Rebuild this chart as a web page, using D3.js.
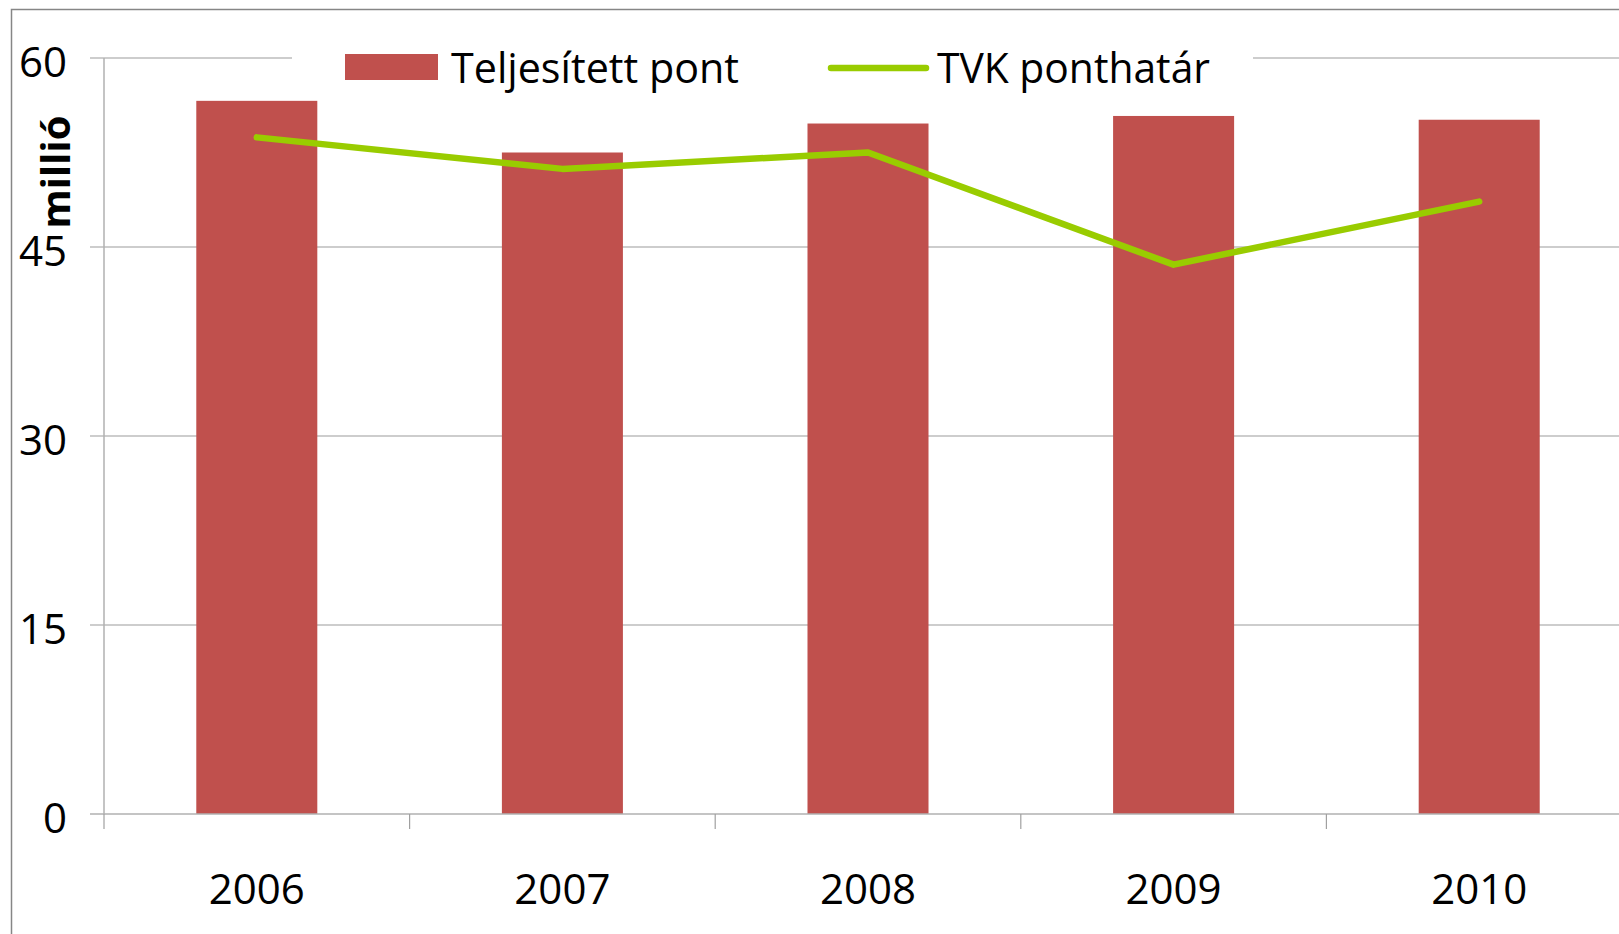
<!DOCTYPE html>
<html>
<head>
<meta charset="utf-8">
<script src="https://cdn.jsdelivr.net/npm/d3@7"></script>
<style>
  body { margin: 0; background: #fff; }
  svg { display: block; font-family: "Open Sans", "Noto Sans", sans-serif; }
</style>
</head>
<body>
<svg id="chart"></svg>
<script>
// chart values
const years = ['2006', '2007', '2008', '2009', '2010'];
const teljesitett = [56.6, 52.5, 54.8, 55.4, 55.1];
const tvkHatar = [53.7, 51.2, 52.5, 43.6, 48.6];
const yTicks = [0, 15, 30, 45, 60];
const seriesNames = ['Teljesített pont', 'TVK ponthatár'];

class ComboChart {

    constructor(_config) {
        this.config = {
            parentElement: _config.parentElement,
            containerWidth: _config.containerWidth || 1619,
            containerHeight: _config.containerHeight || 934,
            margin: {top: 58, right: -13, bottom: 120, left: 104}
        }
        this.initVis();
    }

    initVis() {
        let vis = this;

        vis.width = vis.config.containerWidth - vis.config.margin.left - vis.config.margin.right;
        vis.height = vis.config.containerHeight - vis.config.margin.top - vis.config.margin.bottom;

        vis.svg = d3.select(vis.config.parentElement)
            .attr('width', vis.config.containerWidth)
            .attr('height', vis.config.containerHeight);

        // outer chart frame (runs off to the right/bottom)
        vis.svg.append('rect')
            .attr('x', 11.5)
            .attr('y', 9.5)
            .attr('width', 1700)
            .attr('height', 1000)
            .attr('fill', '#fff')
            .attr('stroke', '#868686')
            .attr('stroke-width', 1.5);

        vis.chart = vis.svg.append('g')
            .attr('transform', `translate(${vis.config.margin.left},${vis.config.margin.top})`);

        vis.xScale = d3.scaleBand()
            .domain(years)
            .range([0, vis.width])
            .padding(0);

        vis.yScale = d3.scaleLinear()
            .domain([0, 60])
            .range([vis.height, 0]);

        vis.updateVis();
    }

    updateVis() {
        let vis = this;
        vis.barData = years.map((y, i) => ({year: y, value: teljesitett[i]}));
        vis.lineData = years.map((y, i) => ({year: y, value: tvkHatar[i]}));
        vis.renderVis();
    }

    renderVis() {
        let vis = this;
        const bw = vis.xScale.bandwidth() * 0.396;

        // gridlines with small tick stubs left of the axis
        vis.chart.selectAll('.grid')
            .data(yTicks.filter(d => d > 0))
            .join('line')
            .attr('class', 'grid')
            .attr('x1', -14)
            .attr('x2', vis.width)
            .attr('y1', d => vis.yScale(d))
            .attr('y2', d => vis.yScale(d))
            .attr('stroke', '#bcbcbc')
            .attr('stroke-width', 1.5);

        // y tick labels
        vis.chart.selectAll('.ylab')
            .data(yTicks)
            .join('text')
            .attr('class', 'ylab')
            .attr('x', -37)
            .attr('y', d => vis.yScale(d) + 19)
            .attr('text-anchor', 'end')
            .attr('font-size', 42)
            .attr('fill', '#000')
            .text(d => d);

        // bars
        vis.chart.selectAll('.bar')
            .data(vis.barData)
            .join('rect')
            .attr('class', 'bar')
            .attr('x', d => vis.xScale(d.year) + (vis.xScale.bandwidth() - bw) / 2)
            .attr('width', bw)
            .attr('y', d => vis.yScale(d.value))
            .attr('height', d => vis.height - vis.yScale(d.value))
            .attr('fill', '#c0504d');

        // axes lines
        vis.chart.append('line')
            .attr('x1', 0).attr('x2', 0)
            .attr('y1', 0).attr('y2', vis.height)
            .attr('stroke', '#b0b0b0').attr('stroke-width', 1.5);

        vis.chart.append('line')
            .attr('x1', -14).attr('x2', vis.width)
            .attr('y1', vis.height).attr('y2', vis.height)
            .attr('stroke', '#b0b0b0').attr('stroke-width', 1.5);

        // category boundary ticks
        vis.chart.selectAll('.xtick')
            .data(years.concat(['end']))
            .join('line')
            .attr('class', 'xtick')
            .attr('x1', (d, i) => i * vis.xScale.step())
            .attr('x2', (d, i) => i * vis.xScale.step())
            .attr('y1', vis.height)
            .attr('y2', vis.height + 15)
            .attr('stroke', '#a0a0a0')
            .attr('stroke-width', 1.2);

        // x labels
        vis.chart.selectAll('.xlab')
            .data(years)
            .join('text')
            .attr('class', 'xlab')
            .attr('x', d => vis.xScale(d) + vis.xScale.bandwidth() / 2)
            .attr('y', vis.height + 90)
            .attr('text-anchor', 'middle')
            .attr('font-size', 42)
            .attr('fill', '#000')
            .text(d => d);

        // line series
        const line = d3.line()
            .x(d => vis.xScale(d.year) + vis.xScale.bandwidth() / 2)
            .y(d => vis.yScale(d.value));

        vis.chart.append('path')
            .datum(vis.lineData)
            .attr('d', line)
            .attr('fill', 'none')
            .attr('stroke', '#99cc00')
            .attr('stroke-width', 6.5)
            .attr('stroke-linecap', 'round')
            .attr('stroke-linejoin', 'round');

        // axis title
        vis.svg.append('text')
            .attr('transform', 'translate(70,172) rotate(-90)')
            .attr('text-anchor', 'middle')
            .attr('font-size', 40)
            .attr('font-weight', 'bold')
            .attr('fill', '#000')
            .text('millió');

        // legend
        const legend = vis.svg.append('g');
        legend.append('rect')
            .attr('x', 292).attr('y', 30)
            .attr('width', 961).attr('height', 70)
            .attr('fill', '#fff');
        legend.append('rect')
            .attr('x', 345).attr('y', 54)
            .attr('width', 93).attr('height', 26)
            .attr('fill', '#c0504d');
        legend.append('text')
            .attr('x', 451).attr('y', 83)
            .attr('font-size', 42)
            .attr('textLength', 288)
            .attr('lengthAdjust', 'spacingAndGlyphs')
            .text(seriesNames[0]);
        legend.append('line')
            .attr('x1', 831).attr('x2', 926)
            .attr('y1', 68).attr('y2', 68)
            .attr('stroke', '#99cc00')
            .attr('stroke-width', 6.5)
            .attr('stroke-linecap', 'round');
        legend.append('text')
            .attr('x', 937).attr('y', 83)
            .attr('font-size', 42)
            .attr('textLength', 273)
            .attr('lengthAdjust', 'spacingAndGlyphs')
            .text(seriesNames[1]);
    }
}

new ComboChart({parentElement: '#chart'});
</script>
</body>
</html>
